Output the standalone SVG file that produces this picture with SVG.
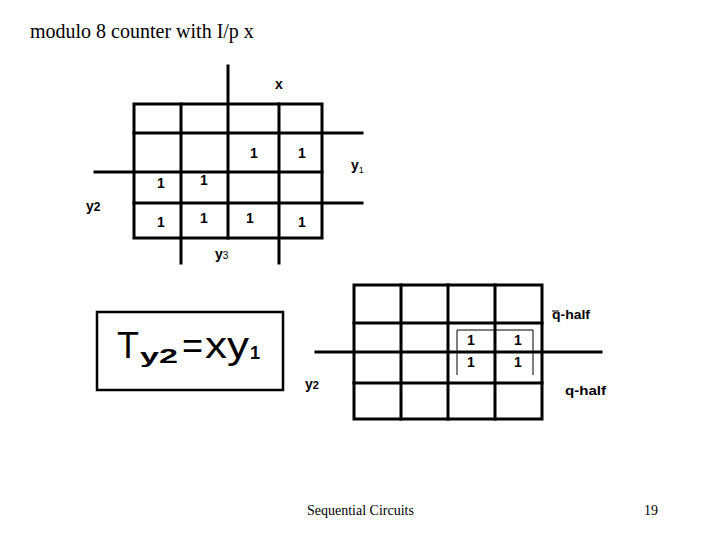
<svg xmlns="http://www.w3.org/2000/svg" width="720" height="540" viewBox="0 0 720 540">
<style>
.g{stroke:#000;stroke-width:3;fill:none;stroke-linecap:square}
.t{stroke:#000;stroke-width:1;fill:none}
.b{font-family:"Liberation Sans",Arial,sans-serif;font-weight:bold;fill:#000}
.one{font-size:14px;text-anchor:middle}
.s{font-family:"Liberation Serif","Times New Roman",serif;fill:#000}
.r{font-family:"Liberation Sans",Arial,sans-serif;fill:#000}
</style>
<rect width="720" height="540" fill="#fff"/>
<text class="s" x="30" y="38" font-size="20">modulo 8 counter with I/p x</text>

<g id="map1">
<rect class="g" x="134" y="104" width="188" height="134"/>
<path class="g" d="M181 104V263M228 66V238M279 104V263M95 172H322M134 133H362M134 203H362"/>
<text class="b one" x="254" y="158">1</text>
<text class="b one" x="302" y="158">1</text>
<text class="b one" x="161" y="188">1</text>
<text class="b one" x="204" y="185">1</text>
<text class="b one" x="161" y="227">1</text>
<text class="b one" x="204" y="223">1</text>
<text class="b one" x="250" y="223">1</text>
<text class="b one" x="302" y="227">1</text>
<text class="b" x="275" y="89" font-size="14">x</text>
<text class="b" x="351" y="170" font-size="14">y<tspan font-size="9" font-weight="normal" dy="3">1</tspan></text>
<text class="b" x="86" y="211" font-size="14">y<tspan font-size="12">2</tspan></text>
<text class="b" x="215" y="259" font-size="14">y<tspan font-size="10" font-weight="normal">3</tspan></text>
</g>

<g id="formula">
<rect x="97" y="312" width="186" height="78" fill="none" stroke="#000" stroke-width="2.5"/>
<text class="r" x="117" y="358" font-size="36">T</text>
<text class="b" x="140" y="363" font-size="20" textLength="38" lengthAdjust="spacingAndGlyphs">y2</text>
<text class="r" x="182" y="358" font-size="36">=</text>
<text class="r" x="205" y="358" font-size="37" textLength="44" lengthAdjust="spacingAndGlyphs">xy</text>
<text class="b" x="250" y="359" font-size="18">1</text>
</g>

<g id="map2">
<rect class="g" x="354" y="285" width="188" height="134"/>
<path class="g" d="M401 285V419M448 285V419M495 285V419M354 323H542M316 352H601M354 383H542"/>
<path class="t" d="M457 375V330H533V375"/>
<text class="b one" x="471" y="345">1</text>
<text class="b one" x="518" y="345">1</text>
<text class="b one" x="471" y="367">1</text>
<text class="b one" x="518" y="367">1</text>
<line x1="552" y1="311" x2="559" y2="311" stroke="#000" stroke-width="1"/>
<text class="b" x="552" y="319" font-size="12" textLength="38" lengthAdjust="spacingAndGlyphs">q-half</text>
<text class="b" x="565" y="395" font-size="12" textLength="41" lengthAdjust="spacingAndGlyphs">q-half</text>
<text class="b" x="305" y="389" font-size="14">y<tspan font-size="11">2</tspan></text>
</g>

<text class="s" x="307" y="515" font-size="14">Sequential Circuits</text>
<text class="s" x="658" y="515" font-size="14" text-anchor="end">19</text>
</svg>
